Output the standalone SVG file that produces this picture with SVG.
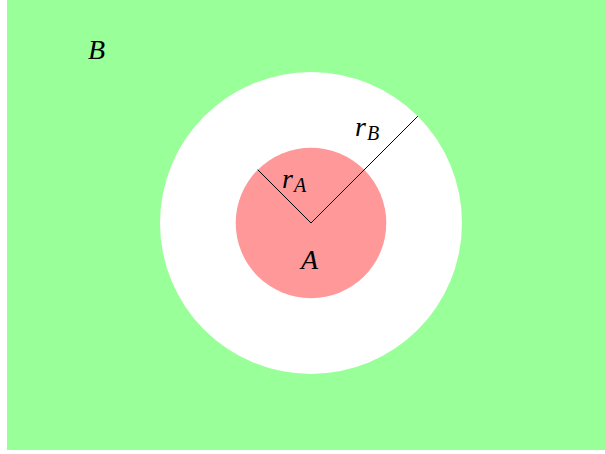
<svg xmlns="http://www.w3.org/2000/svg" width="605" height="454" viewBox="0 0 605 454">
<style>
.t{font-family:"Liberation Serif","DejaVu Serif",serif;font-style:italic;fill:#000}
.m{font-size:28px}
.s{font-size:20px}
</style>
<rect x="0" y="0" width="605" height="454" fill="#fff"/>
<g id="regionB">
<rect x="7" y="0" width="598" height="450" fill="#99FF99"/>
<circle cx="311" cy="223" r="151" fill="#fff"/>
<text class="t m" x="88" y="59">B</text>
</g>
<g id="regionA">
<circle cx="311" cy="223" r="75.3" fill="#FF9999"/>
<text class="t m" x="301" y="269">A</text>
</g>
<g id="connectors" stroke="#000" stroke-width="1" fill="none">
<line x1="311" y1="223" x2="257.7" y2="169.7"/>
<line x1="311" y1="223" x2="417.8" y2="116.2"/>
</g>
<g id="labels">
<text class="t" x="282" y="188"><tspan class="m">r</tspan><tspan class="s" dx="1" dy="4">A</tspan></text>
<text class="t" x="355" y="136"><tspan class="m">r</tspan><tspan class="s" dx="1" dy="4">B</tspan></text>
</g>
</svg>
